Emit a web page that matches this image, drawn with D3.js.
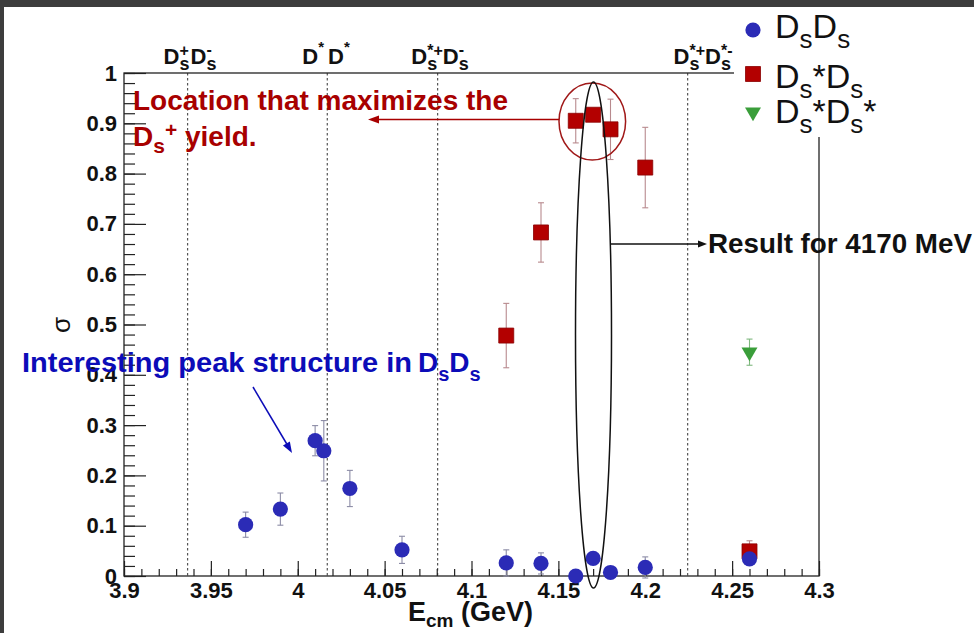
<!DOCTYPE html>
<html>
<head>
<meta charset="utf-8">
<script src="https://cdn.jsdelivr.net/npm/d3@7/dist/d3.min.js"></script>
<style>
  html, body { margin: 0; padding: 0; background: #3d3d3d; }
  svg { display: block; }
  text { white-space: pre; }
</style>
</head>
<body>
<svg id="chart" width="974" height="633"></svg>
<script>
// ---- data ---------------------------------------------------------------
// D_s D_s cross section vs. E_cm
const energyDsDs = [3.970, 3.990, 4.010, 4.015, 4.030, 4.060, 4.120, 4.140, 4.160, 4.170, 4.180, 4.200, 4.260];
const sigmaDsDs  = [0.102, 0.133, 0.269, 0.249, 0.174, 0.052, 0.026, 0.025, 0.000, 0.035, 0.007, 0.017, 0.034];
const errDsDs    = [0.025, 0.032, 0.030, 0.060, 0.036, 0.027, 0.026, 0.021, 0.006, 0.008, 0.006, 0.021, 0.008];

// D_s* D_s
const energyDsStarDs = [4.120, 4.140, 4.160, 4.170, 4.180, 4.200, 4.260];
const sigmaDsStarDs  = [0.478, 0.683, 0.905, 0.917, 0.888, 0.812, 0.049];
const errDsStarDs    = [0.064, 0.059, 0.044, 0.010, 0.060, 0.080, 0.021];

// D_s* D_s*
const energyDsStarDsStar = [4.260];
const sigmaDsStarDsStar  = [0.445];
const errDsStarDsStar    = [0.026];

// production thresholds (GeV)
const thresholdEnergies = [3.9366, 4.0170, 4.0805, 4.2244];

// axis ticks
const xMajorTicks  = [3.9, 3.95, 4.0, 4.05, 4.1, 4.15, 4.2, 4.25, 4.3];
const xTickLabels  = ["3.9", "3.95", "4", "4.05", "4.1", "4.15", "4.2", "4.25", "4.3"];
const yMajorTicks  = [0, 0.1, 0.2, 0.3, 0.4, 0.5, 0.6, 0.7, 0.8, 0.9, 1.0];
const yTickLabels  = ["0", "0.1", "0.2", "0.3", "0.4", "0.5", "0.6", "0.7", "0.8", "0.9", "1"];

// ---- setup --------------------------------------------------------------
const FONT = "'Liberation Sans', Arial, Helvetica, sans-serif";
const svg = d3.select("#chart");

// page background with dark frame at top/left
svg.append("rect").attr("x", 0).attr("y", 0).attr("width", 974).attr("height", 633).attr("fill", "#3d3d3d");
svg.append("rect").attr("x", 4).attr("y", 7).attr("width", 970).attr("height", 626).attr("fill", "#ffffff");

const x = d3.scaleLinear().domain([3.9, 4.3]).range([124, 819]);
const y = d3.scaleLinear().domain([0, 1]).range([576, 73]);

const COL_BLUE = "#2b2bb6";
const COL_RED = "#b30000";
const COL_GREEN = "#3a9e3a";

// rich text: sequence of pieces, with sub/superscripts and stacked pairs
function rich(parent, x0, y0, parts, opt) {
  const g = parent.append("g");
  let cx = 0;
  const put = (p) => {
    const t = g.append("text")
      .attr("x", cx + (p.dx || 0))
      .attr("y", p.dy || 0)
      .attr("font-family", FONT)
      .attr("font-size", p.s || opt.size)
      .attr("font-weight", opt.weight || "normal")
      .attr("fill", opt.fill || "#000")
      .text(p.t);
    return t.node().getComputedTextLength() + (p.dx || 0);
  };
  parts.forEach(p => {
    if (p.gap) { cx += p.gap; return; }
    if (p.stack) {
      let w = 0;
      p.stack.forEach(q => { w = Math.max(w, put(q)); });
      cx += w;
    } else {
      cx += put(p);
    }
  });
  const shift = opt.anchor === "middle" ? -cx / 2 : 0;
  g.attr("transform", `translate(${x0 + shift},${y0})`);
  return g;
}

// ---- threshold lines ----------------------------------------------------
svg.append("g").selectAll("line").data(thresholdEnergies).join("line")
  .attr("x1", d => x(d)).attr("x2", d => x(d))
  .attr("y1", y(1)).attr("y2", y(0))
  .attr("stroke", "#555").attr("stroke-width", 1.2)
  .attr("stroke-dasharray", "2.5,2.5");

// ---- axes ---------------------------------------------------------------
const xAxis = d3.axisBottom(x).tickValues(xMajorTicks)
  .tickFormat((d, i) => xTickLabels[i]).tickSizeInner(-15).tickSizeOuter(0).tickPadding(6);
const xMinor = d3.axisBottom(x)
  .tickValues(d3.range(0, 41).map(i => 3.9 + i * 0.01))
  .tickFormat("").tickSizeInner(-7).tickSizeOuter(0);
const yAxis = d3.axisLeft(y).tickValues(yMajorTicks)
  .tickFormat((d, i) => yTickLabels[i]).tickSizeInner(-22).tickSizeOuter(0).tickPadding(7);
const yMinor = d3.axisLeft(y)
  .tickValues(d3.range(0, 51).map(i => i * 0.02))
  .tickFormat("").tickSizeInner(-11).tickSizeOuter(0);

function styleAxis(g) {
  g.select(".domain").remove();
  g.selectAll("line").attr("stroke", "#222").attr("stroke-width", 1.2);
  g.selectAll("text").attr("font-family", FONT).attr("font-size", 22)
    .attr("font-weight", "bold").attr("fill", "#111");
}
svg.append("g").attr("transform", `translate(0,${y(0)})`).call(xMinor).call(styleAxis);
svg.append("g").attr("transform", `translate(0,${y(0)})`).call(xAxis).call(styleAxis);
svg.append("g").attr("transform", `translate(${x(3.9)},0)`).call(yMinor).call(styleAxis);
svg.append("g").attr("transform", `translate(${x(3.9)},0)`).call(yAxis).call(styleAxis);

// frame
svg.append("rect").attr("x", x(3.9)).attr("y", y(1))
  .attr("width", x(4.3) - x(3.9)).attr("height", y(0) - y(1))
  .attr("fill", "none").attr("stroke", "#222").attr("stroke-width", 1.3);

// legend panel (white box covering frame corner)
svg.append("rect").attr("x", 734).attr("y", 7).attr("width", 240).attr("height", 130).attr("fill", "#fff");

// axis titles
svg.append("text")
  .attr("transform", `translate(70,325) rotate(-90)`)
  .attr("text-anchor", "middle")
  .attr("font-family", FONT).attr("font-size", 26).attr("fill", "#111")
  .text("σ");
rich(svg, 408, 621, [
  { t: "E" },
  { t: "cm", s: 19, dy: 6 },
  { t: " (GeV)" }
], { size: 27, weight: "bold", fill: "#111" });

// threshold labels
const subS = { t: "s", s: 18, dy: 6 };
const thresholdLabels = [
  [{ t: "D" }, { stack: [subS, { t: "+", s: 16, dy: -8 }] }, { gap: 1 }, { t: "D" }, { stack: [subS, { t: "-", s: 16, dy: -9 }] }],
  [{ t: "D" }, { t: "*", s: 15, dy: -12 }, { gap: 4 }, { t: "D" }, { t: "*", s: 15, dy: -12 }],
  [{ t: "D" }, { stack: [subS, { t: "*+", s: 16, dy: -8 }] }, { t: "D" }, { stack: [subS, { t: "-", s: 16, dy: -9 }] }],
  [{ t: "D" }, { stack: [subS, { t: "*+", s: 16, dy: -8 }] }, { t: "D" }, { stack: [subS, { t: "*-", s: 16, dy: -8 }] }]
];
const thresholdLabelX = [190, 326, 440, 703];
thresholdLabels.forEach((parts, i) => {
  rich(svg, thresholdLabelX[i], 63.5, parts, { size: 22, weight: "bold", fill: "#111", anchor: "middle" });
});

// ---- data series --------------------------------------------------------
function errorBars(energies, sigmas, errs, color) {
  const g = svg.append("g").attr("stroke", color).attr("stroke-width", 1.1);
  energies.forEach((e, i) => {
    const cx = x(e), y1 = y(sigmas[i] + errs[i]), y2 = y(sigmas[i] - errs[i]);
    g.append("line").attr("x1", cx).attr("x2", cx).attr("y1", y1).attr("y2", y2);
    g.append("line").attr("x1", cx - 3).attr("x2", cx + 3).attr("y1", y1).attr("y2", y1);
    g.append("line").attr("x1", cx - 3).attr("x2", cx + 3).attr("y1", y2).attr("y2", y2);
  });
}

const squareSym = d3.symbol().type(d3.symbolSquare).size(225);
const circleSym = d3.symbol().type(d3.symbolCircle).size(Math.PI * 7.6 * 7.6);
const triSym = d3.symbol().type(d3.symbolTriangle).size(110);

// D_s* D_s
errorBars(energyDsStarDs, sigmaDsStarDs, errDsStarDs, "#b88a8e");
svg.append("g").selectAll("path").data(energyDsStarDs).join("path")
  .attr("d", squareSym)
  .attr("transform", (d, i) => `translate(${x(d)},${y(sigmaDsStarDs[i])})`)
  .attr("fill", COL_RED).attr("stroke", "#8a0000").attr("stroke-width", 0.8);

// D_s* D_s*
errorBars(energyDsStarDsStar, sigmaDsStarDsStar, errDsStarDsStar, "#7fb87f");
svg.append("g").selectAll("path").data(energyDsStarDsStar).join("path")
  .attr("d", triSym)
  .attr("transform", (d, i) => `translate(${x(d)},${y(sigmaDsStarDsStar[i])}) rotate(180)`)
  .attr("fill", COL_GREEN);

// D_s D_s
errorBars(energyDsDs, sigmaDsDs, errDsDs, "#8c8ca6");
svg.append("g").selectAll("path").data(energyDsDs).join("path")
  .attr("d", circleSym)
  .attr("transform", (d, i) => `translate(${x(d)},${y(sigmaDsDs[i])})`)
  .attr("fill", COL_BLUE);

// ---- legend -------------------------------------------------------------
svg.append("path").attr("d", circleSym).attr("transform", "translate(753,30)").attr("fill", COL_BLUE);
svg.append("path").attr("d", squareSym).attr("transform", "translate(753,74)")
  .attr("fill", COL_RED).attr("stroke", "#8a0000").attr("stroke-width", 0.8);
svg.append("path").attr("d", triSym).attr("transform", "translate(753,112) rotate(180)").attr("fill", COL_GREEN);

const legSub = { t: "s", s: 26, dy: 10 };
rich(svg, 775, 38, [{ t: "D" }, legSub, { t: "D" }, legSub], { size: 34, fill: "#111" });
rich(svg, 775, 88, [{ t: "D" }, legSub, { t: "*" }, { t: "D" }, legSub], { size: 34, fill: "#111" });
rich(svg, 775, 123, [{ t: "D" }, legSub, { t: "*" }, { t: "D" }, legSub, { t: "*" }], { size: 34, fill: "#111" });

// ---- annotations --------------------------------------------------------
function arrowHead(x0, y0, angle, color, len, half) {
  svg.append("path")
    .attr("d", `M0,0 L${-len},${-half} L${-len},${half} Z`)
    .attr("transform", `translate(${x0},${y0}) rotate(${angle})`)
    .attr("fill", color);
}

// peak region: circle and pointer to the text
const RED_NOTE = "#a80000";
svg.append("ellipse").attr("cx", 592.3).attr("cy", 121.5).attr("rx", 33.3).attr("ry", 38.5)
  .attr("fill", "none").attr("stroke", "#a01818").attr("stroke-width", 1.5);
svg.append("line").attr("x1", 559).attr("x2", 376).attr("y1", 119.5).attr("y2", 119.5)
  .attr("stroke", RED_NOTE).attr("stroke-width", 1.5);
arrowHead(368, 119.5, 180, RED_NOTE, 11, 4);

svg.append("text").attr("x", 133).attr("y", 110)
  .attr("font-family", FONT).attr("font-size", 28).attr("font-weight", "bold").attr("fill", RED_NOTE)
  .attr("textLength", 375).attr("lengthAdjust", "spacingAndGlyphs")
  .text("Location that maximizes the");
rich(svg, 133, 146, [
  { t: "D" }, { t: "s", s: 21, dy: 7 }, { t: "+", s: 21, dy: -9 }, { t: " yield." }
], { size: 28, weight: "bold", fill: RED_NOTE });

// 4170 MeV column: tall ellipse and pointer
svg.append("ellipse").attr("cx", 593.5).attr("cy", 335).attr("rx", 18).attr("ry", 253)
  .attr("fill", "none").attr("stroke", "#111").attr("stroke-width", 1.5);
svg.append("line").attr("x1", 611).attr("x2", 700).attr("y1", 244).attr("y2", 244)
  .attr("stroke", "#111").attr("stroke-width", 1.5);
arrowHead(707, 244, 0, "#111", 9, 3.5);
svg.append("text").attr("x", 708).attr("y", 252.5)
  .attr("font-family", FONT).attr("font-size", 28).attr("font-weight", "bold").attr("fill", "#111")
  .attr("textLength", 264).attr("lengthAdjust", "spacingAndGlyphs")
  .text("Result for 4170 MeV");

// low-energy structure note
const BLUE_NOTE = "#0c0cb8";
svg.append("text").attr("x", 22).attr("y", 372)
  .attr("font-family", FONT).attr("font-size", 28).attr("font-weight", "bold").attr("fill", BLUE_NOTE)
  .attr("textLength", 390).attr("lengthAdjust", "spacingAndGlyphs")
  .text("Interesting peak structure in");
rich(svg, 418, 372, [{ t: "D" }, { t: "s", s: 20, dy: 9 }, { t: "D" }, { t: "s", s: 20, dy: 9 }],
  { size: 28, weight: "bold", fill: BLUE_NOTE });
svg.append("line").attr("x1", 253).attr("y1", 387).attr("x2", 288).attr("y2", 446)
  .attr("stroke", BLUE_NOTE).attr("stroke-width", 1.5);
arrowHead(292, 453, Math.atan2(453 - 387, 292 - 253) * 180 / Math.PI, BLUE_NOTE, 11, 4);
</script>
</body>
</html>
